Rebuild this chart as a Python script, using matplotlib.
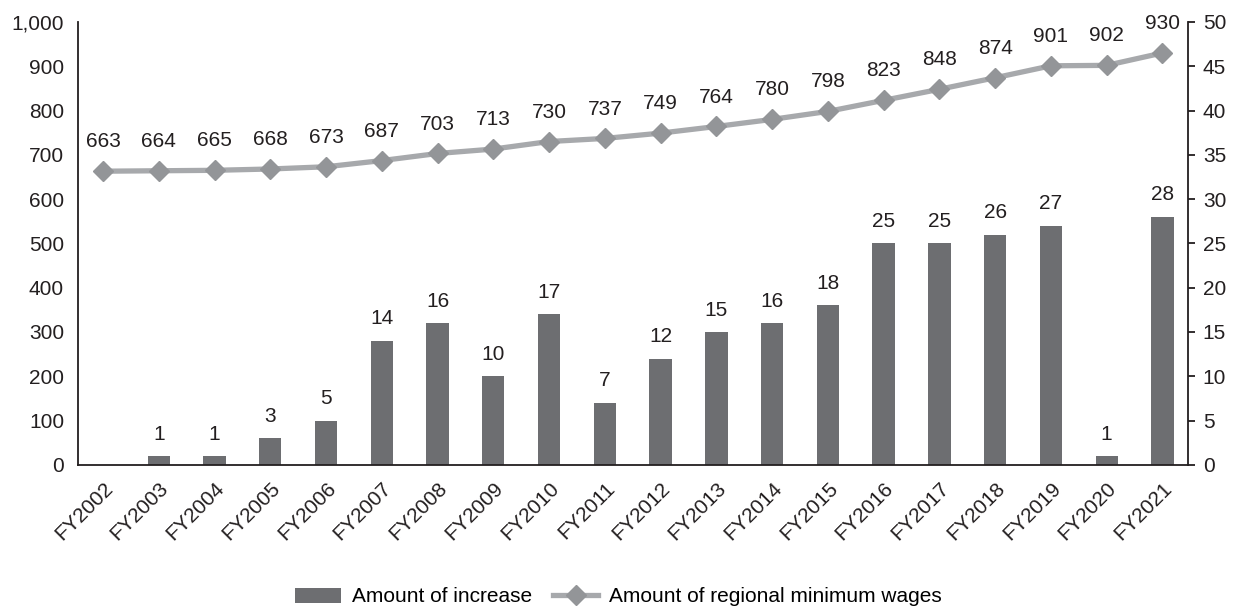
import numpy as np
import matplotlib.pyplot as plt

plt.rcParams['font.family'] = ['Liberation Sans', 'DejaVu Sans']

years = ['FY2002', 'FY2003', 'FY2004', 'FY2005', 'FY2006', 'FY2007', 'FY2008',
         'FY2009', 'FY2010', 'FY2011', 'FY2012', 'FY2013', 'FY2014', 'FY2015',
         'FY2016', 'FY2017', 'FY2018', 'FY2019', 'FY2020', 'FY2021']
wages = [663, 664, 665, 668, 673, 687, 703, 713, 730, 737, 749, 764, 780, 798,
         823, 848, 874, 901, 902, 930]
increase = [0, 1, 1, 3, 5, 14, 16, 10, 17, 7, 12, 15, 16, 18, 25, 25, 26, 27, 1, 28]

bar_color = '#6d6e71'
line_color = '#a7a9ac'
marker_color = '#939598'
text_color = '#231f20'
fs = 15

fig = plt.figure(figsize=(12.37, 6.10), dpi=100)
ax = fig.add_axes([0.063, 0.238, 0.897, 0.726])
ax2 = ax.twinx()

x = np.arange(len(years))

# bars on the right axis
ax2.bar(x, increase, width=0.4, color=bar_color, label='Amount of increase', zorder=2)
for xi, v in zip(x, increase):
    if v > 0:
        ax2.text(xi, v + 1.4, str(v), ha='center', va='bottom', fontsize=fs, color=text_color)

# line on the left axis, drawn above bars
ax.set_zorder(ax2.get_zorder() + 1)
ax.patch.set_visible(False)
ax.plot(x, wages, color=line_color, linewidth=3.8, marker='D', markersize=10,
        markerfacecolor=marker_color, markeredgecolor=marker_color,
        label='Amount of regional minimum wages')
for xi, v in zip(x, wages):
    ax.text(xi, v + 45, str(v), ha='center', va='bottom', fontsize=fs, color=text_color)

ax.set_ylim(0, 1000)
ax.set_yticks(range(0, 1001, 100))
ax.set_yticklabels([f'{t:,}' for t in range(0, 1001, 100)])
ax2.set_ylim(0, 50)
ax2.set_yticks(range(0, 51, 5))
ax.set_xlim(-0.45, len(years) - 0.55)

ax.set_xticks(x)
ax.set_xticklabels(years, rotation=45, ha='right', rotation_mode='anchor')

for a in (ax, ax2):
    a.spines['top'].set_visible(False)
    a.tick_params(labelsize=fs, colors=text_color)
ax.spines['right'].set_visible(False)
ax2.spines['left'].set_visible(False)
ax2.spines['bottom'].set_visible(False)
for s in ('left', 'bottom'):
    ax.spines[s].set_linewidth(1.3)
    ax.spines[s].set_color('#231f20')
ax2.spines['right'].set_linewidth(1.3)
ax2.spines['right'].set_color('#231f20')
ax.tick_params(axis='y', length=0, pad=10)
ax.tick_params(axis='x', length=0, pad=10)
ax2.tick_params(axis='y', length=5, width=1.3, pad=6)

h1, l1 = ax2.get_legend_handles_labels()
h2, l2 = ax.get_legend_handles_labels()
fig.legend(h1 + h2, l1 + l2, loc='lower center', bbox_to_anchor=(0.5, -0.025),
           ncol=2, frameon=False, fontsize=fs, handlelength=2.2, columnspacing=1.0,
           handletextpad=0.5)

fig.savefig('out.png', dpi=100)
